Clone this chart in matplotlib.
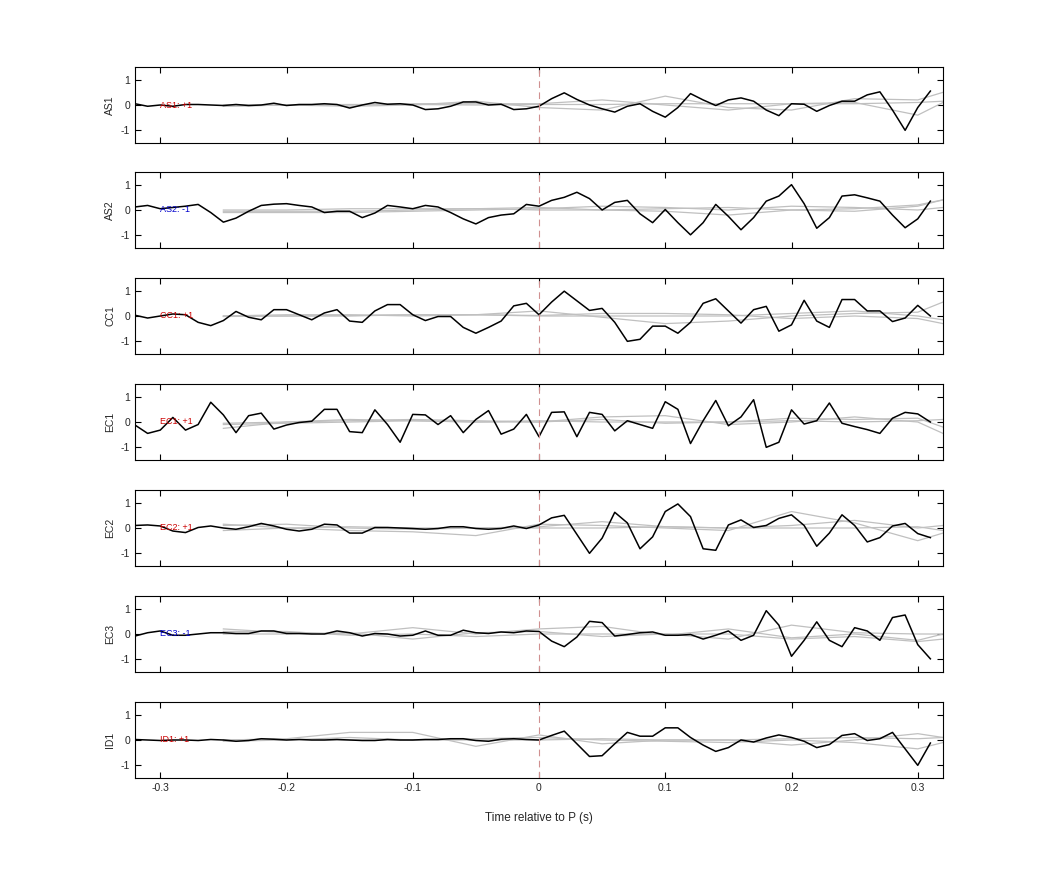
import numpy as np
import matplotlib
matplotlib.use("Agg")
import matplotlib.pyplot as plt

plt.rcParams['font.family'] = ['Liberation Sans', 'DejaVu Sans']
plt.rcParams['axes.unicode_minus'] = False

t = np.round(np.arange(-0.32, 0.315, 0.01), 2)
names = ["AS1", "AS2", "CC1", "EC1", "EC2", "EC3", "ID1"]
signs = ["+1", "-1", "+1", "+1", "+1", "-1", "+1"]

AS1 = [0.05,-0.05,0.0,-0.05,0.02,0.02,0.0,-0.02,0.02,-0.02,0.0,0.07,-0.02,0.02,0.02,0.05,0.02,-0.12,0.0,0.1,0.03,0.05,0.0,-0.18,-0.15,-0.05,0.12,0.12,0.0,0.03,-0.18,-0.15,-0.05,
       0.25,0.48,0.22,0.0,-0.15,-0.28,-0.05,0.05,-0.25,-0.48,-0.1,0.45,0.2,-0.02,0.2,0.28,0.15,-0.2,-0.42,0.05,0.03,-0.25,-0.02,0.15,0.15,0.4,0.52,-0.2,-1.0,-0.1,0.55]
AS2 = [0.12,0.18,0.05,0.1,0.15,0.22,-0.1,-0.48,-0.32,-0.05,0.18,0.23,0.25,0.18,0.12,-0.1,-0.05,-0.05,-0.3,-0.12,0.18,0.12,0.05,0.18,0.12,-0.1,-0.35,-0.55,-0.3,-0.2,-0.15,0.22,0.15,
       0.38,0.5,0.7,0.45,0.0,0.3,0.38,-0.15,-0.5,0.02,-0.5,-0.98,-0.5,0.22,-0.25,-0.78,-0.3,0.35,0.55,1.0,0.25,-0.72,-0.3,0.55,0.6,0.48,0.35,-0.2,-0.7,-0.35,0.35]
CC1 = [0.03,-0.08,0.0,0.08,0.05,-0.25,-0.38,-0.18,0.18,-0.05,-0.15,0.25,0.25,0.05,-0.15,0.12,0.25,-0.2,-0.25,0.2,0.45,0.45,0.05,-0.18,-0.02,-0.02,-0.45,-0.68,-0.45,-0.2,0.4,0.5,0.05,
       0.55,0.98,0.6,0.22,0.3,-0.25,-1.0,-0.92,-0.4,-0.4,-0.68,-0.25,0.5,0.68,0.2,-0.28,0.25,0.38,-0.6,-0.35,0.62,-0.2,-0.45,0.65,0.65,0.2,0.2,-0.22,-0.08,0.42,0.0]
EC1 = [-0.12,-0.45,-0.32,0.18,-0.32,-0.1,0.78,0.28,-0.42,0.25,0.35,-0.28,-0.12,-0.02,0.03,0.5,0.5,-0.38,-0.42,0.48,-0.1,-0.8,0.3,0.28,-0.1,0.25,-0.42,0.1,0.45,-0.48,-0.28,0.3,-0.58,
       0.38,0.4,-0.58,0.38,0.3,-0.35,0.05,-0.1,-0.25,0.8,0.5,-0.85,0.05,0.85,-0.15,0.2,0.88,-1.0,-0.8,0.48,-0.08,0.05,0.75,-0.05,-0.18,-0.3,-0.45,0.15,0.38,0.32,0.0]
EC2 = [0.1,0.12,0.08,-0.12,-0.18,0.02,0.08,0.0,-0.05,0.05,0.18,0.08,-0.05,-0.12,-0.05,0.15,0.12,-0.2,-0.2,0.02,0.02,0.0,-0.02,-0.05,-0.02,0.05,0.05,-0.02,-0.05,-0.02,0.08,-0.02,0.12,
       0.4,0.5,-0.25,-1.0,-0.4,0.62,0.2,-0.82,-0.35,0.65,0.95,0.45,-0.82,-0.88,0.12,0.32,0.02,0.1,0.38,0.52,0.1,-0.72,-0.2,0.52,0.1,-0.55,-0.38,0.08,0.18,-0.22,-0.38]
EC3 = [-0.08,0.05,0.12,-0.05,-0.05,0.0,0.05,0.05,0.02,0.02,0.12,0.12,0.02,0.02,0.0,0.0,0.12,0.05,-0.08,0.02,0.0,-0.08,-0.05,0.12,-0.05,-0.05,0.15,0.05,0.02,0.08,0.05,0.12,0.1,
       -0.28,-0.5,-0.12,0.5,0.45,-0.08,-0.02,0.05,0.08,-0.05,-0.05,-0.02,-0.2,-0.05,0.12,-0.25,-0.05,0.92,0.35,-0.88,-0.25,0.48,-0.25,-0.5,0.25,0.12,-0.25,0.65,0.75,-0.42,-0.98]
ID1 = [0.02,0.0,-0.02,0.0,0.0,-0.02,0.02,0.0,-0.05,-0.02,0.05,0.03,0.0,0.02,0.0,0.0,0.02,0.0,-0.02,-0.02,0.02,0.0,0.0,0.02,0.02,0.05,0.05,-0.02,-0.05,0.03,0.05,0.02,0.0,
       0.18,0.35,-0.15,-0.65,-0.62,-0.15,0.3,0.15,0.15,0.48,0.48,0.1,-0.2,-0.45,-0.3,0.0,-0.08,0.08,0.2,0.1,-0.05,-0.3,-0.18,0.18,0.25,-0.02,0.05,0.3,-0.35,-1.0,-0.12]
black = [AS1, AS2, CC1, EC1, EC2, EC3, ID1]

# grey comparison traces (sampled every 0.05 s)
tg = [-0.25,-0.2,-0.15,-0.1,-0.05,0.0,0.05,0.1,0.15,0.2,0.25,0.3,0.32]
grey = [
 [[0.0,0.0,-0.05,0.0,0.15,-0.1,-0.2,0.35,-0.1,-0.2,0.25,0.2,0.5],
  [-0.05,0.0,0.0,0.05,0.05,0.05,0.2,0.0,-0.2,0.05,0.1,-0.4,0.1],
  [-0.05,0.0,0.02,0.02,0.0,0.02,0.02,0.05,0.05,0.05,0.05,0.1,0.15]],
 [[-0.05,-0.05,-0.05,0.0,0.05,0.1,0.0,-0.05,-0.2,0.0,0.05,0.2,0.4],
  [-0.1,-0.1,-0.1,-0.05,0.0,0.05,0.15,0.1,0.0,0.15,0.1,0.0,0.1],
  [0.0,0.0,0.05,0.05,0.05,0.0,0.0,0.05,0.1,0.0,-0.05,0.15,0.4]],
 [[0.0,0.0,0.0,0.05,0.05,0.2,-0.05,-0.3,-0.2,0.0,0.1,0.15,0.55],
  [-0.02,0.0,0.02,0.05,0.05,0.02,0.1,0.1,0.05,-0.1,0.0,-0.1,-0.3],
  [0.0,0.05,0.05,0.0,0.05,0.0,0.0,0.0,0.0,0.1,0.2,0.0,-0.15]],
 [[-0.25,0.0,0.05,0.1,0.05,0.0,0.2,0.25,-0.1,0.0,0.2,0.0,-0.45],
  [-0.05,0.0,0.1,0.05,0.0,0.0,0.1,-0.05,0.0,0.15,0.1,0.15,-0.2],
  [-0.1,-0.05,0.0,0.05,0.0,0.05,0.0,0.0,0.0,0.05,0.0,0.05,0.1]],
 [[0.15,0.0,-0.1,-0.15,-0.3,0.15,0.1,0.0,-0.1,0.65,0.2,-0.5,-0.2],
  [0.1,0.15,0.0,-0.05,0.0,0.05,0.25,0.05,0.0,0.1,0.3,0.0,0.1],
  [-0.1,0.0,0.05,0.0,0.0,0.0,0.0,0.05,0.0,0.0,0.0,0.05,-0.1]],
 [[0.2,0.05,0.0,0.25,0.0,0.2,0.3,-0.05,0.2,-0.15,0.0,-0.25,0.0],
  [0.1,0.1,-0.05,0.0,-0.1,0.0,0.0,0.0,-0.2,0.35,0.05,0.0,0.0],
  [0.0,0.0,0.05,-0.2,0.05,0.1,-0.1,0.0,0.0,-0.2,-0.1,-0.3,-0.2]],
 [[0.0,0.05,0.3,0.3,-0.25,0.2,-0.15,0.0,0.0,-0.2,0.0,0.25,0.1],
  [-0.05,0.0,0.1,0.0,0.05,0.1,0.0,-0.05,-0.1,0.0,-0.1,-0.35,-0.1],
  [0.0,0.02,0.0,0.0,0.0,0.0,0.05,0.0,0.0,0.05,0.1,0.05,0.1]],
]

fig = plt.figure(figsize=(10.42, 8.75), dpi=100)
W, H = 1042, 875
tops = [67, 172, 278, 384, 490, 596, 702]
ph = 76
for i, name in enumerate(names):
    ax = fig.add_axes([135 / W, 1 - (tops[i] + ph) / H, 808 / W, ph / H])
    for g in grey[i]:
        ax.plot(tg, g, color="#c0c0c0", lw=0.9)
    ax.plot(t, black[i], color="black", lw=1.1)
    ax.axvline(0, color="#d09090", lw=0.8, ls=(0, (6, 4)))
    ax.text(-0.30, 0.0, f"{name}: {signs[i]}", fontsize=6.5, va="center", ha="left",
            color="#cc0000" if signs[i] == "+1" else "#0000cc")
    ax.set_xlim(-0.32, 0.32)
    ax.set_ylim(-1.5, 1.5)
    ax.set_yticks([-1, 0, 1])
    ax.set_xticks([-0.3, -0.2, -0.1, 0, 0.1, 0.2, 0.3])
    ax.tick_params(direction="in", top=True, right=True, labelsize=7.5, length=4,
                   labelcolor="#262626")
    ax.set_ylabel(name, fontsize=7.5, color="#262626")
    if i < len(names) - 1:
        ax.set_xticklabels([])
    else:
        ax.set_xticklabels(["-0.3", "-0.2", "-0.1", "0", "0.1", "0.2", "0.3"])
        ax.set_xlabel("Time relative to P (s)", fontsize=8.5, labelpad=14, color="#262626")
    for s in ax.spines.values():
        s.set_linewidth(0.8)

fig.savefig("out.png", dpi=100)
